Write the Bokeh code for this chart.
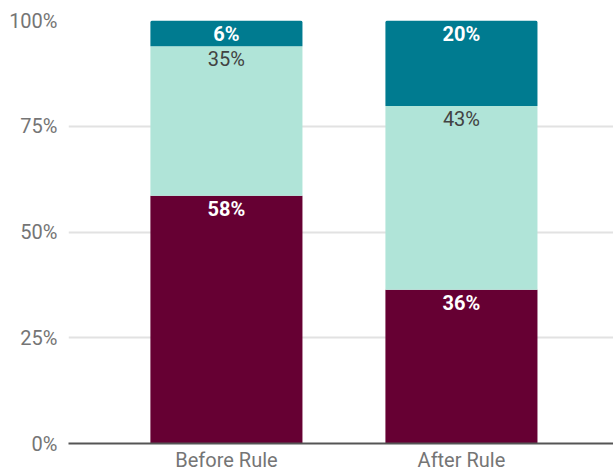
from bokeh.plotting import figure
from bokeh.models import Range1d, FixedTicker, NumeralTickFormatter, ColumnDataSource
from bokeh.embed import file_html
from bokeh.resources import INLINE
from bokeh.core.properties import value

categories = ["Before Rule", "After Rule"]
low = [58, 36]
mid = [35, 43]
high = [6, 20]
colors = ["#660033", "#b0e4d8", "#007b90"]
label_colors = ["#ffffff", "#424242", "#ffffff"]
label_styles = ["bold", "normal", "bold"]
y_ticks = [0, 0.25, 0.5, 0.75, 1.0]

xs = list(range(len(categories)))
series = [low, mid, high]
totals = [sum(s[i] for s in series) for i in xs]

p = figure(width=613, height=474, output_backend="svg", toolbar_location=None,
           x_range=Range1d(-0.672, 1.647), y_range=Range1d(0, 1),
           min_border_left=68, min_border_right=0, min_border_top=20, min_border_bottom=31)
p.outline_line_color = None
p.background_fill_color = "white"

bottoms = [0.0 for _ in xs]
for k, s in enumerate(series):
    shares = [s[i] / totals[i] for i in xs]
    tops = [bottoms[i] + shares[i] for i in xs]
    src = ColumnDataSource(dict(x=xs, bottom=list(bottoms), top=tops,
                                label=[f"{v}%" for v in s]))
    radius = (2, 2, 0, 0) if k == len(series) - 1 else 0
    p.vbar(x="x", bottom="bottom", top="top", width=0.647, source=src,
           fill_color=colors[k], line_color=None, border_radius=radius)
    p.text(x="x", y="top", text="label", source=src, text_align="center",
           text_baseline="top", y_offset=1, text_color=label_colors[k],
           text_font=value("Roboto"), text_font_size="20px",
           text_font_style=label_styles[k])
    bottoms = tops

p.xaxis.ticker = FixedTicker(ticks=xs)
p.xaxis.major_label_overrides = {i: c for i, c in enumerate(categories)}
p.xaxis.major_tick_line_color = None
p.xaxis.major_tick_out = 0
p.xaxis.major_tick_in = 0
p.xaxis.minor_tick_line_color = None
p.xaxis.axis_line_color = "#555555"
p.xaxis.axis_line_width = 2
p.xaxis.major_label_text_font = "Roboto"
p.xaxis.major_label_text_font_size = "20px"
p.xaxis.major_label_text_color = "#757575"
p.xaxis.major_label_standoff = 4

p.yaxis.ticker = FixedTicker(ticks=y_ticks)
p.yaxis.formatter = NumeralTickFormatter(format="0%")
p.yaxis.axis_line_color = None
p.yaxis.major_tick_line_color = None
p.yaxis.major_tick_out = 0
p.yaxis.major_tick_in = 0
p.yaxis.minor_tick_line_color = None
p.yaxis.major_label_text_font = "Roboto"
p.yaxis.major_label_text_font_size = "20px"
p.yaxis.major_label_text_color = "#757575"
p.yaxis.major_label_standoff = 11

p.xgrid.grid_line_color = None
p.ygrid.grid_line_color = "#e2e2e2"
p.ygrid.grid_line_width = 2

open("out.html", "w").write(file_html(p, INLINE))
